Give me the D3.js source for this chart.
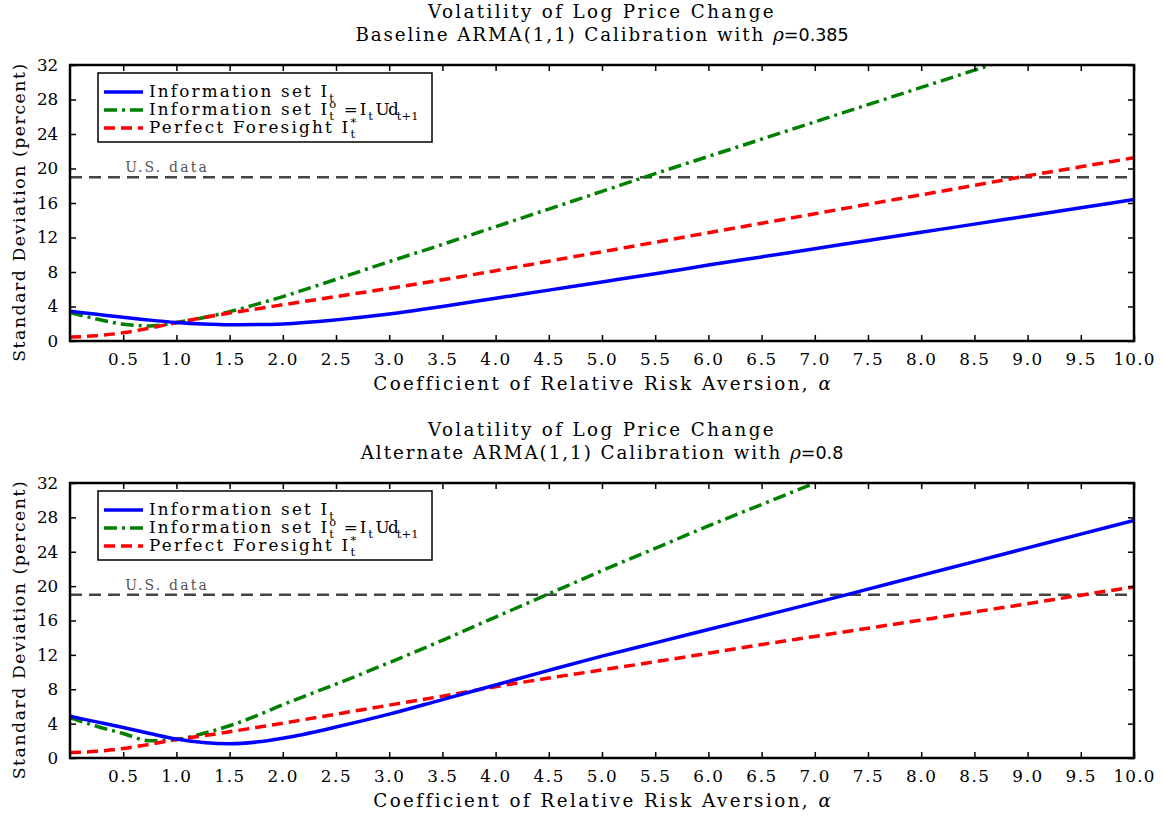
<!DOCTYPE html>
<html>
<head>
<meta charset="utf-8">
<script src="https://cdn.jsdelivr.net/npm/d3@7"></script>
<style>
  body { margin: 0; background: #fff; }
  svg text { font-family: "DejaVu Serif", serif; fill: #000; }
</style>
</head>
<body>
<svg id="chart" width="1162" height="816"></svg>
<script>
  // ============================================================
  // Data
  // ============================================================

  const alpha = [0, 0.25, 0.5, 0.75, 1, 1.25, 1.5, 1.75, 2, 2.5, 3, 3.5, 4, 4.5, 5,
                 5.5, 6, 6.5, 7, 7.5, 8, 8.5, 9, 9.5, 10];

  // Baseline ARMA(1,1), rho = 0.385
  const baseInfo = [3.45, 3.1, 2.75, 2.42, 2.15, 1.97, 1.88, 1.9, 1.98, 2.45, 3.12, 4.0, 4.95, 5.9, 6.85,
                    7.8, 8.8, 9.75, 10.7, 11.65, 12.6, 13.55, 14.5, 15.45, 16.4];
  const baseNews = [3.3, 2.55, 1.95, 1.75, 2.15, 2.7, 3.4, 4.25, 5.15, 7.15, 9.2, 11.2, 13.25, 15.3, 17.35,
                    19.4, 21.4, 23.4, 25.4, 27.4, 29.4, 31.4, 33.4, null, null];
  const basePerfect = [0.45, 0.62, 0.95, 1.5, 2.12, 2.7, 3.25, 3.72, 4.2, 5.15, 6.1, 7.1, 8.15, 9.25, 10.35,
                       11.45, 12.55, 13.65, 14.75, 15.85, 16.95, 18.05, 19.15, 20.2, 21.25];

  // Alternate ARMA(1,1), rho = 0.8
  const altInfo = [4.85, 4.2, 3.55, 2.85, 2.2, 1.8, 1.65, 1.85, 2.3, 3.6, 5.1, 6.8, 8.5, 10.2, 11.85,
                   13.4, 14.95, 16.5, 18.05, 19.65, 21.25, 22.85, 24.45, 26.05, 27.65];
  const altNews = [4.7, 3.7, 2.85, 2.0, 2.15, 2.85, 3.75, 4.9, 6.2, 8.6, 11.1, 13.7, 16.4, 19.1, 21.8,
                   24.4, 27.0, 29.5, 32.0, 34.5, null, null, null, null, null];
  const altPerfect = [0.62, 0.78, 1.1, 1.6, 2.15, 2.58, 3.05, 3.55, 4.05, 5.1, 6.15, 7.2, 8.3, 9.3, 10.25,
                      11.2, 12.2, 13.2, 14.15, 15.1, 16.05, 17.0, 17.95, 18.95, 19.9];

  const usData = 19;
  const usRange = [0, 9.95];

  const xTicks = [0.5, 1, 1.5, 2, 2.5, 3, 3.5, 4, 4.5, 5, 5.5, 6, 6.5, 7, 7.5, 8, 8.5, 9, 9.5, 10];
  const yTicks = [0, 4, 8, 12, 16, 20, 24, 28, 32];

  const panels = [
    { top: 65, bottom: 341, sub: "Baseline ARMA(1,1) Calibration with ", rho: "=0.385",
      info: baseInfo, news: baseNews, perfect: basePerfect },
    { top: 483, bottom: 758, sub: "Alternate ARMA(1,1) Calibration with ", rho: "=0.8",
      info: altInfo, news: altNews, perfect: altPerfect }
  ];

  const styles = {
    info:    { color: "#0000ff", dash: null },
    news:    { color: "#008000", dash: "13,5,3,5" },
    perfect: { color: "#ff0000", dash: "11,6" }
  };

  // ============================================================
  // Drawing
  // ============================================================

  const svg = d3.select("#chart");
  const left = 70, right = 1134;
  const cx = (left + right) / 2;

  const x = d3.scaleLinear().domain([0, 10]).range([left, right]);

  // serif glyphs on a fixed typewriter pitch: spread each run to adv px per char
  function typewriter(node, adv) {
    const str = node.textContent;
    if (!str.length) return;
    const len = node.getComputedTextLength();
    d3.select(node).style("letter-spacing", ((str.length * adv - len) / str.length) + "px");
  }

  // text with "I" and stacked super/subscripts
  function legendLabel(g, lx, ly, parts) {
    const t = g.append("text").attr("x", lx).attr("y", ly).attr("font-size", 16.8);
    let shift = 0;
    parts.forEach(p => {
      if (p.n !== undefined) {
        t.append("tspan").attr("dy", -shift).attr("data-adv", 10.6).text(p.n);
        shift = 0;
      } else if (p.sub !== undefined) {
        t.append("tspan").attr("font-size", 11.5).attr("dy", 5 - shift).attr("data-adv", 7.3).text(p.sub);
        shift = 5;
      } else if (p.sup !== undefined) {
        t.append("tspan").attr("font-size", 11.5).attr("dy", -7 - shift).attr("data-adv", 7.3).text(p.sup);
        t.append("tspan").attr("font-size", 11.5).attr("dx", -7.3).attr("dy", 12)
          .attr("data-adv", 7.3).text(p.under);
        shift = 5;
      }
    });
  }

  panels.forEach(p => {
    const y = d3.scaleLinear().domain([0, 32]).range([p.bottom, p.top]);
    const g = svg.append("g");
    const clipId = "clip" + p.top;

    svg.append("clipPath").attr("id", clipId).append("rect")
      .attr("x", left).attr("y", p.top).attr("width", right - left).attr("height", p.bottom - p.top);

    // titles
    g.append("text").attr("x", cx).attr("y", p.top - 47).attr("text-anchor", "middle")
      .attr("font-size", 18.3).attr("data-adv", 11.6).text("Volatility of Log Price Change");
    const t2 = g.append("text").attr("x", cx).attr("y", p.top - 24).attr("text-anchor", "middle")
      .attr("font-size", 18.3);
    t2.append("tspan").attr("data-adv", 11.6).text(p.sub);
    t2.append("tspan").attr("font-style", "italic").attr("font-size", 18.5).text("ρ");
    t2.append("tspan").attr("font-family", "DejaVu Sans").attr("font-size", 17.5).text(p.rho);

    // U.S. data line
    g.append("line")
      .attr("x1", x(usRange[0])).attr("x2", x(usRange[1]))
      .attr("y1", y(usData)).attr("y2", y(usData))
      .attr("stroke", "#444").attr("stroke-width", 2.5).attr("stroke-dasharray", "12,7");
    g.append("text").attr("x", x(0.52)).attr("y", y(usData) - 5)
      .attr("font-size", 14).attr("data-adv", 9.3).style("fill", "#555").text("U.S. data");

    // curves
    const line = d3.line()
      .defined(d => d[1] !== null)
      .x(d => x(d[0])).y(d => y(d[1]))
      .curve(d3.curveMonotoneX);

    const curves = g.append("g").attr("clip-path", `url(#${clipId})`);
    [["news", p.news], ["perfect", p.perfect], ["info", p.info]].forEach(([k, vals]) => {
      const s = styles[k];
      curves.append("path")
        .datum(alpha.map((a, i) => [a, vals[i]]))
        .attr("d", line)
        .attr("fill", "none")
        .attr("stroke", s.color)
        .attr("stroke-width", 3.5)
        .attr("stroke-dasharray", s.dash);
    });

    // frame
    g.append("rect").attr("x", left).attr("y", p.top)
      .attr("width", right - left).attr("height", p.bottom - p.top)
      .attr("fill", "none").attr("stroke", "#000").attr("stroke-width", 2.5);

    // axes with inward ticks
    const xb = g.append("g").attr("transform", `translate(0,${p.bottom})`)
      .call(d3.axisBottom(x).tickValues(xTicks).tickSizeInner(-6).tickSizeOuter(0)
        .tickPadding(12).tickFormat(d3.format(".1f")));
    const xt = g.append("g").attr("transform", `translate(0,${p.top})`)
      .call(d3.axisTop(x).tickValues(xTicks).tickSizeInner(-6).tickSizeOuter(0).tickFormat(""));
    const yl = g.append("g").attr("transform", `translate(${left},0)`)
      .call(d3.axisLeft(y).tickValues(yTicks).tickSizeInner(-6).tickSizeOuter(0).tickPadding(12));
    const yr = g.append("g").attr("transform", `translate(${right},0)`)
      .call(d3.axisRight(y).tickValues(yTicks).tickSizeInner(-6).tickSizeOuter(0).tickFormat(""));

    [xb, xt, yl, yr].forEach(a => {
      a.select(".domain").remove();
      a.selectAll(".tick line").attr("stroke", "#000").attr("stroke-width", 1.5);
      a.selectAll(".tick text").attr("font-size", 16.8).attr("data-adv", 10.5)
        .attr("font-family", "DejaVu Serif").style("fill", "#000");
    });

    // axis labels
    const xl = g.append("text").attr("x", cx).attr("y", p.bottom + 49)
      .attr("text-anchor", "middle").attr("font-size", 18.3);
    xl.append("tspan").attr("data-adv", 11.4).text("Coefficient of Relative Risk Aversion, ");
    xl.append("tspan").attr("font-style", "italic").text("α");

    g.append("text")
      .attr("transform", `translate(25,${(p.top + p.bottom) / 2 + 9}) rotate(-90)`)
      .attr("text-anchor", "middle").attr("font-size", 17.3).attr("data-adv", 10.7)
      .text("Standard Deviation (percent)");

    // legend
    const lg = g.append("g");
    lg.append("rect").attr("x", 98).attr("y", p.top + 8).attr("width", 334).attr("height", 69)
      .attr("fill", "#fff").attr("stroke", "#000").attr("stroke-width", 1.5);

    const rows = [
      { k: "info", parts: [{ n: "Information set I" }, { sub: "t" }] },
      { k: "news", parts: [{ n: "Information set I" }, { sup: "o", under: "t" }, { n: " =I" }, { sub: "t" },
                           { n: "Ud" }, { sub: "t+1" }] },
      { k: "perfect", parts: [{ n: "Perfect Foresight I" }, { sup: "*", under: "t" }] }
    ];
    rows.forEach((r, i) => {
      const ry = p.top + 27 + i * 18;
      lg.append("line").attr("x1", 104).attr("x2", 143).attr("y1", ry).attr("y2", ry)
        .attr("stroke", styles[r.k].color).attr("stroke-width", 3.5)
        .attr("stroke-dasharray", styles[r.k].dash);
      legendLabel(lg, 149, ry + 5, r.parts);
    });
  });

  svg.selectAll("[data-adv]").each(function () {
    typewriter(this, +this.getAttribute("data-adv"));
  });
</script>
</body>
</html>
